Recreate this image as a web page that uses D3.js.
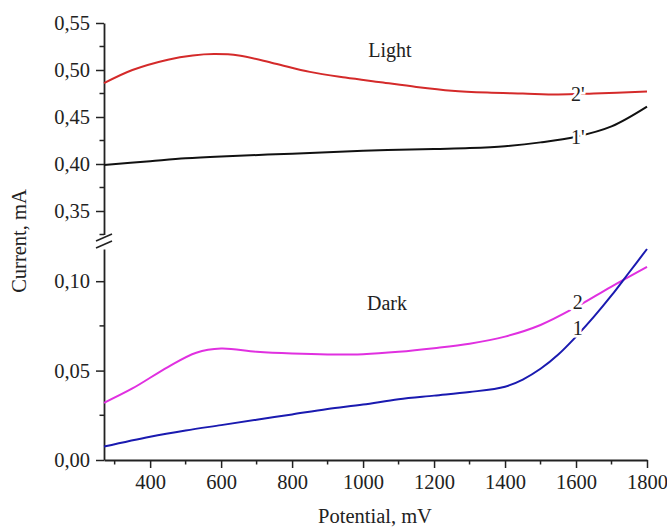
<!DOCTYPE html>
<html>
<head>
<meta charset="utf-8">
<script src="https://cdn.jsdelivr.net/npm/d3@7"></script>
<style>
  body { margin: 0; background: #fff; }
  svg text { font-family: "Liberation Serif", "Times New Roman", serif; fill: #222; }
</style>
</head>
<body>
<svg id="chart" width="667" height="530"></svg>
<script>
// potential, mV
var potLight = [270, 350, 450, 520, 580, 650, 750, 850, 950, 1050, 1150, 1250, 1350, 1450, 1550, 1650, 1800];
// curve 2' (light)
var light2 = [0.486, 0.500, 0.511, 0.5155, 0.517, 0.5155, 0.507, 0.498, 0.492, 0.487, 0.482, 0.478, 0.476, 0.475, 0.474, 0.475, 0.477];

var potLight1 = [270, 400, 500, 600, 800, 1000, 1200, 1300, 1400, 1500, 1600, 1700, 1800];
// curve 1' (light)
var light1 = [0.399, 0.403, 0.406, 0.408, 0.411, 0.414, 0.416, 0.417, 0.419, 0.423, 0.429, 0.440, 0.461];

var potDark2 = [270, 350, 450, 530, 600, 700, 800, 900, 1000, 1100, 1200, 1300, 1400, 1500, 1600, 1700, 1800];
// curve 2 (dark)
var dark2 = [0.032, 0.040, 0.052, 0.060, 0.0623, 0.0605, 0.0595, 0.0590, 0.0592, 0.0605, 0.0625, 0.065, 0.069, 0.0755, 0.0855, 0.097, 0.108];

var potDark1 = [270, 400, 500, 600, 700, 800, 900, 1000, 1100, 1200, 1300, 1400, 1450, 1500, 1550, 1600, 1650, 1700, 1750, 1800];
// curve 1 (dark)
var dark1 = [0.0075, 0.013, 0.0165, 0.0195, 0.0225, 0.0255, 0.0285, 0.031, 0.034, 0.036, 0.038, 0.041, 0.045, 0.051, 0.059, 0.069, 0.080, 0.092, 0.105, 0.118];

var xTicks = [400, 600, 800, 1000, 1200, 1400, 1600, 1800];
var upperTicks = [0.35, 0.40, 0.45, 0.50, 0.55];
var lowerTicks = [0.00, 0.05, 0.10];

var svg = d3.select("#chart");

var x = d3.scaleLinear().domain([270, 1800]).range([104, 647]);
var yUp = d3.scaleLinear().domain([0.325, 0.55]).range([234.5, 23]);
var yLow = d3.scaleLinear().domain([0, 0.118]).range([460, 249]);

function fmt(v) { return d3.format(".2f")(v).replace(".", ","); }

// x axis
var xAxis = d3.axisBottom(x).tickValues(xTicks).tickSize(8).tickSizeOuter(0).tickPadding(6).tickFormat(d3.format("d"));
var gx = svg.append("g").attr("transform", "translate(0,460)").call(xAxis);
gx.append("g").selectAll("line").data(d3.range(300, 1800, 200)).enter().append("line")
    .attr("x1", function(d) { return x(d); }).attr("x2", function(d) { return x(d); })
    .attr("y1", 0).attr("y2", 4.5).attr("stroke", "#222").attr("stroke-width", 1.5);

// y axis, upper part
var gUp = svg.append("g").attr("transform", "translate(104,0)")
    .call(d3.axisLeft(yUp).tickValues(upperTicks).tickSize(8).tickSizeOuter(0).tickPadding(6).tickFormat(fmt));
gUp.append("g").selectAll("line").data([0.325, 0.375, 0.425, 0.475, 0.525]).enter().append("line")
    .attr("y1", function(d) { return yUp(d); }).attr("y2", function(d) { return yUp(d); })
    .attr("x1", 0).attr("x2", -4.5).attr("stroke", "#222").attr("stroke-width", 1.5);

// y axis, lower part
var gLow = svg.append("g").attr("transform", "translate(104,0)")
    .call(d3.axisLeft(yLow).tickValues(lowerTicks).tickSize(8).tickSizeOuter(0).tickPadding(6).tickFormat(fmt));
gLow.append("g").selectAll("line").data([0.025, 0.075]).enter().append("line")
    .attr("y1", function(d) { return yLow(d); }).attr("y2", function(d) { return yLow(d); })
    .attr("x1", 0).attr("x2", -4.5).attr("stroke", "#222").attr("stroke-width", 1.5);

svg.selectAll(".domain").attr("stroke", "#222").attr("stroke-width", 1.8);
svg.selectAll(".tick line").attr("stroke", "#222").attr("stroke-width", 1.5);
svg.selectAll(".tick text").style("font-size", "20.5px").attr("fill", "#222");

// break marks
[[0, 0], [0, 7]].forEach(function(o) {
    svg.append("line").attr("x1", 96).attr("y1", 241 + o[1]).attr("x2", 112).attr("y2", 234 + o[1])
        .attr("stroke", "#222").attr("stroke-width", 1.6);
});

// curves
var curves = [
    { px: potLight, v: light2, y: yUp, color: "#d42a2a" },
    { px: potLight1, v: light1, y: yUp, color: "#111" },
    { px: potDark2, v: dark2, y: yLow, color: "#e030e0" },
    { px: potDark1, v: dark1, y: yLow, color: "#1a1ab0" }
];
curves.forEach(function(c) {
    var line = d3.line()
        .x(function(d) { return x(d[0]); })
        .y(function(d) { return c.y(d[1]); })
        .curve(d3.curveCatmullRom.alpha(0.5));
    svg.append("path").datum(d3.zip(c.px, c.v))
        .attr("d", line).attr("fill", "none").attr("stroke", c.color).attr("stroke-width", 2);
});

// curve labels
var labels = [
    { t: "2'", px: 1605, v: 0.4745, y: yUp },
    { t: "1'", px: 1605, v: 0.429, y: yUp },
    { t: "2", px: 1605, v: 0.0885, y: yLow },
    { t: "1", px: 1605, v: 0.074, y: yLow }
];
svg.selectAll(".clabel").data(labels).enter().append("text")
    .attr("class", "clabel")
    .attr("x", function(d) { return x(d.px); })
    .attr("y", function(d) { return d.y(d.v); })
    .attr("dy", "0.35em")
    .attr("text-anchor", "middle")
    .style("font-size", "20px")
    .style("paint-order", "stroke")
    .attr("stroke", "#fff").attr("stroke-width", 5)
    .text(function(d) { return d.t; });

svg.append("text").attr("x", 390).attr("y", 57).attr("text-anchor", "middle").style("font-size", "20px").text("Light");
svg.append("text").attr("x", 387).attr("y", 310).attr("text-anchor", "middle").style("font-size", "20px").text("Dark");

// axis titles
svg.append("text").attr("x", 375).attr("y", 523).attr("text-anchor", "middle").style("font-size", "20.5px").text("Potential, mV");
svg.append("text").attr("transform", "translate(26,241) rotate(-90)").attr("text-anchor", "middle").style("font-size", "20.5px").text("Current, mA");
</script>
</body>
</html>
